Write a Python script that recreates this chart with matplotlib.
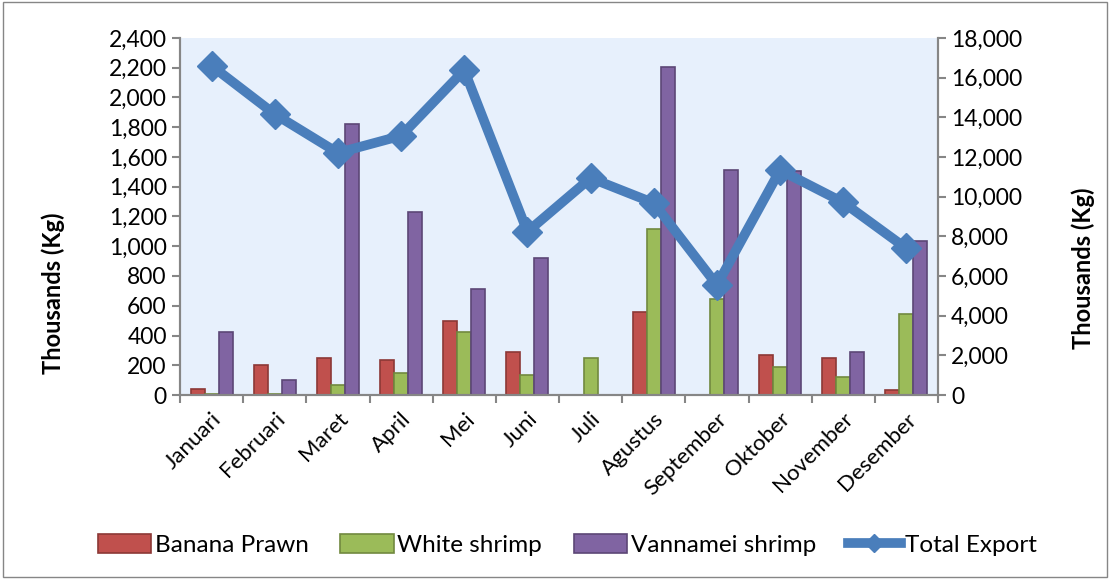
import matplotlib.pyplot as plt
import matplotlib.patches as mpatches
from matplotlib.lines import Line2D
import numpy as np

months = ['Januari', 'Februari', 'Maret', 'April', 'Mei', 'Juni', 'Juli',
          'Agustus', 'September', 'Oktober', 'November', 'Desember']
banana_prawn = [40, 200, 250, 235, 497, 290, 3, 556, 3, 271, 251, 32]
white_shrimp = [5, 5, 69, 150, 423, 137, 246, 1113, 647, 190, 119, 547]
vannamei_shrimp = [425, 103, 1821, 1228, 710, 923, 3, 2202, 1510, 1503, 289, 1035]
total_export = [16600, 14160, 12210, 13070, 16380, 8230, 10940, 9680, 5545, 11340, 9710, 7390]

plt.rcParams['font.family'] = ['Lato', 'DejaVu Sans']

fig = plt.figure(figsize=(11.1, 5.79), dpi=100)
ax = fig.add_axes([180 / 1110, 1 - 395 / 579, (938 - 180) / 1110, (395 - 38) / 579])
ax.set_facecolor('#E7F0FC')

x = np.arange(len(months))
w = 0.222
ax.bar(x - w, banana_prawn, w, color='#C0504D', edgecolor='#8C3836', linewidth=1.2, label='Banana Prawn')
ax.bar(x, white_shrimp, w, color='#9BBB59', edgecolor='#71893F', linewidth=1.2, label='White shrimp')
ax.bar(x + w, vannamei_shrimp, w, color='#8064A2', edgecolor='#5C4776', linewidth=1.2, label='Vannamei shrimp')

ax.set_xlim(-0.5, 11.5)
ax.set_ylim(0, 2400)
ax.set_yticks(range(0, 2401, 200))
ax.set_yticklabels([f'{v:,}' for v in range(0, 2401, 200)])
ax.set_xticks(x)
ax.set_xticklabels(months, rotation=45, ha='right', rotation_mode='anchor')
ax.set_xticks(np.arange(-0.5, 12, 1), minor=True)
ax.tick_params(axis='x', which='major', length=0, pad=10, labelsize=16)
ax.tick_params(axis='x', which='minor', length=6, color='#868686', width=1.5)
ax.tick_params(axis='y', length=6, color='#868686', width=1.5, labelsize=16.5)
ax.set_ylabel('Thousands (Kg)', fontsize=17, fontweight='bold')
ax.yaxis.set_label_coords(-0.152, 0.286)

ax2 = ax.twinx()
ax2.plot(x, total_export, color='#4A7EBB', linewidth=7, marker='D', markersize=15)
ax2.set_ylim(0, 18000)
ax2.set_yticks(range(0, 18001, 2000))
ax2.set_yticklabels([f'{v:,}' for v in range(0, 18001, 2000)])
ax2.tick_params(axis='y', length=6, color='#868686', width=1.5, labelsize=16.5)
ax2.set_ylabel('Thousands (Kg)', fontsize=17, fontweight='bold')
ax2.yaxis.set_label_coords(1.176, 0.356)

for a in (ax, ax2):
    a.spines['top'].set_visible(False)
    for s in ('left', 'right', 'bottom'):
        a.spines[s].set_color('#868686')
        a.spines[s].set_linewidth(1.5)

h1, l1 = ax.get_legend_handles_labels()
line_handle = Line2D([], [], color='#4A7EBB', linewidth=7, marker='D', markersize=9)
fig.legend(h1 + [line_handle], l1 + ['Total Export'], loc='center',
           bbox_to_anchor=(0.511, 1 - 545 / 579), ncol=4, frameon=False, fontsize=17.5,
           handlelength=2.2, handleheight=0.8, handletextpad=0.15, columnspacing=1.3)

fig.patches.append(mpatches.Rectangle((0.003, 0.004), 0.994, 0.992, transform=fig.transFigure,
                                      fill=False, edgecolor='#868686', linewidth=1))

fig.savefig('out.png', dpi=100)
